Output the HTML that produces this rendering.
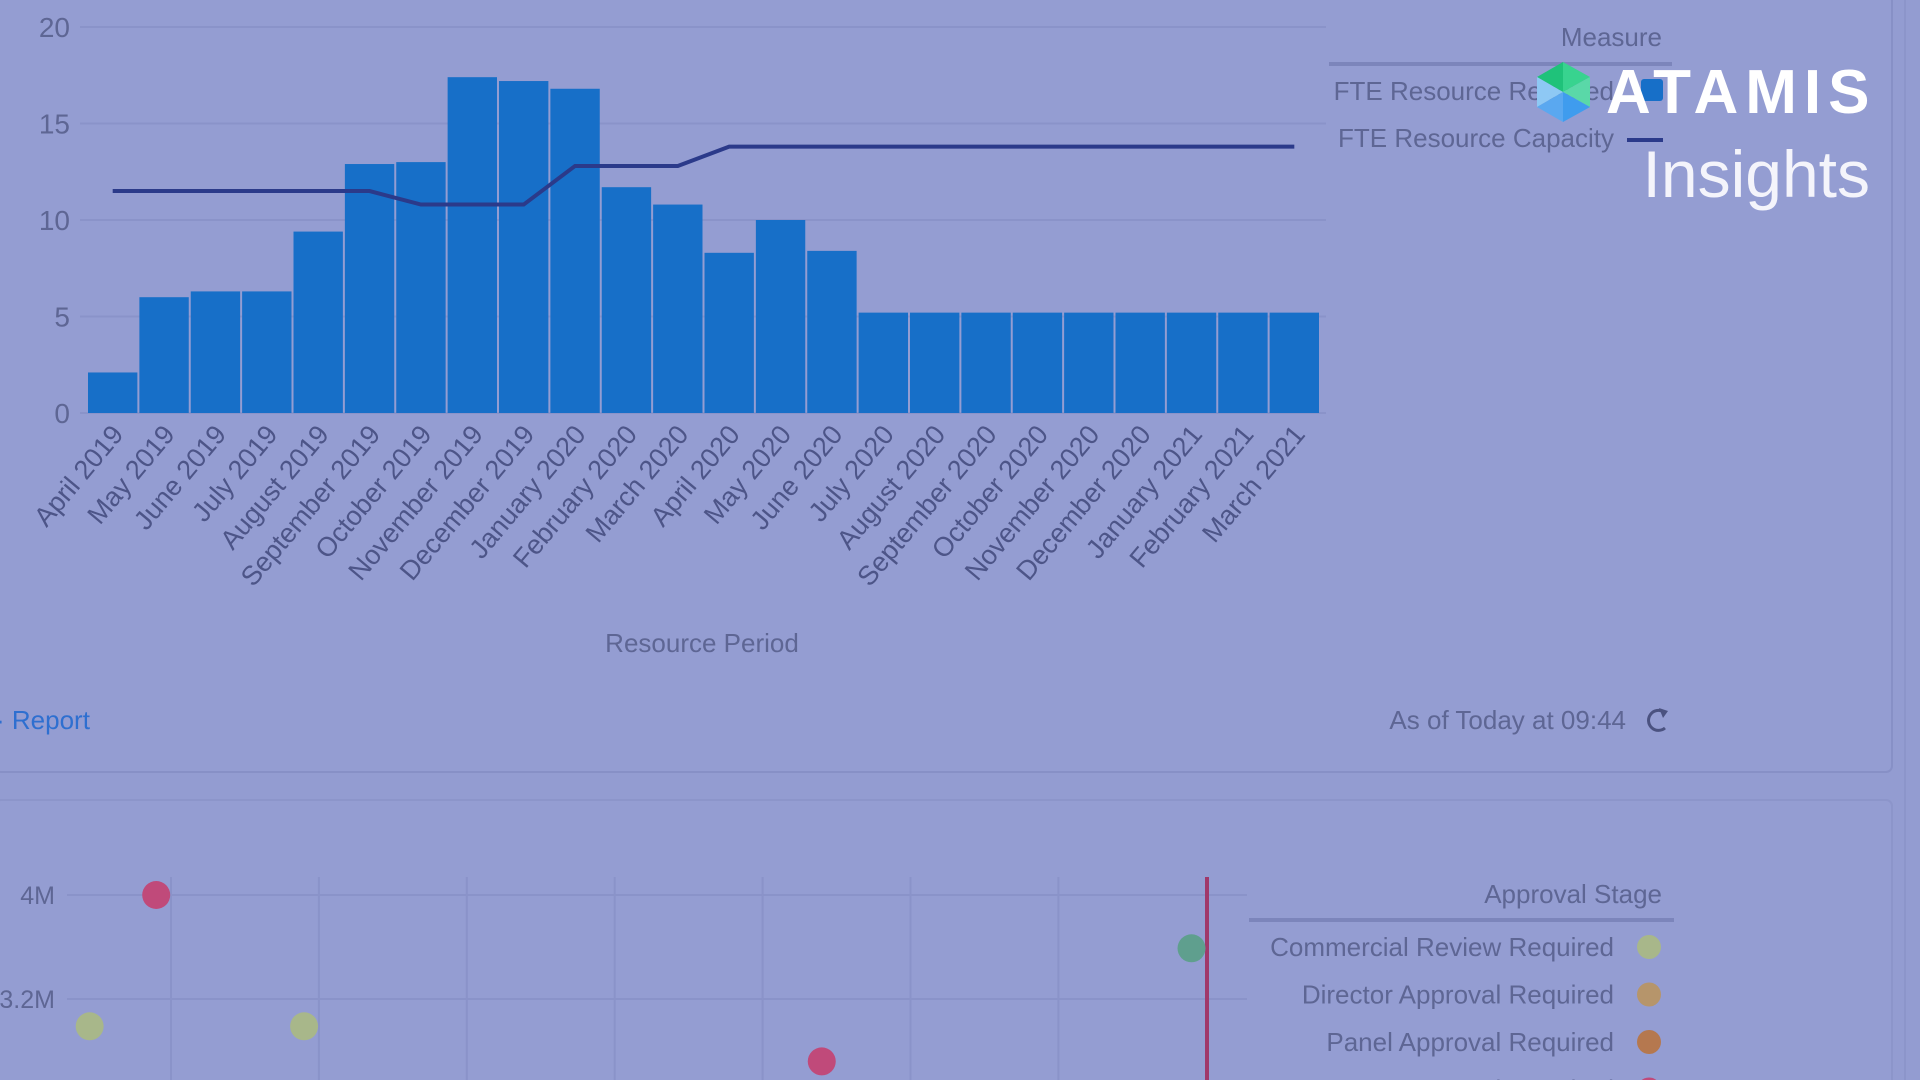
<!DOCTYPE html>
<html><head><meta charset="utf-8"><style>
html,body{margin:0;padding:0;width:1920px;height:1080px;overflow:hidden;background:#939cd1;font-family:"Liberation Sans",sans-serif}
svg{position:absolute;left:0;top:0}
</style></head><body>
<svg id="s" width="1920" height="1080" viewBox="0 0 1920 1080">
  <rect x="0" y="0" width="1920" height="1080" fill="#939cd1"/>
  <rect x="-5" y="-5" width="1897" height="777" rx="6" fill="#949dd2" stroke="#8790c6" stroke-width="2"/>
  <rect x="-5" y="800" width="1897" height="300" rx="6" fill="#949dd2" stroke="#8c95ca" stroke-width="2"/>
  <line x1="1905" y1="0" x2="1905" y2="1080" stroke="#8c95ca" stroke-width="2"/>
  <g id="bar-chart"></g>
  <g id="scatter-chart"></g>
  <text x="702" y="652" text-anchor="middle" font-size="26" fill="#5e6694">Resource Period</text>
  <text x="-4" y="729" font-size="26" fill="#2e6fd0">· Report</text>
  <text x="1626" y="729" text-anchor="end" font-size="26" fill="#5e6694">As of Today at 09:44</text>
  <g><path d="M1664 712 A10 10 0 1 0 1665 728" fill="none" stroke="#4b5280" stroke-width="3"/><path d="M1659 708 L1668 711 L1663 718 Z" fill="#4b5280"/></g>
  <text x="1662" y="46" text-anchor="end" font-size="26" fill="#5e6694">Measure</text>
  <line x1="1329" y1="64" x2="1672" y2="64" stroke="#7c85bb" stroke-width="4"/>
  <text x="1614" y="100" text-anchor="end" font-size="26" fill="#5e6694">FTE Resource Required</text>
  <rect x="1641" y="79" width="22" height="22" rx="3" fill="#176fc8"/>
  <text x="1614" y="147" text-anchor="end" font-size="26" fill="#5e6694">FTE Resource Capacity</text>
  <line x1="1627" y1="140" x2="1663" y2="140" stroke="#2b3a8a" stroke-width="4"/>
  <text x="1662" y="903" text-anchor="end" font-size="26" fill="#5e6694">Approval Stage</text>
  <line x1="1249" y1="920" x2="1674" y2="920" stroke="#7c85bb" stroke-width="4"/>
  <g id="slegend"></g>
  <g>
    <polygon points="1563,62 1590,77 1563,92" fill="#38d38f"/>
    <polygon points="1563,62 1537,77 1563,92" fill="#1fc27a"/>
    <polygon points="1590,77 1590,107 1563,92" fill="#5ad8a8"/>
    <polygon points="1537,77 1537,107 1563,92" fill="#8ec8f4"/>
    <polygon points="1537,107 1563,122 1563,92" fill="#5aa8f0"/>
    <polygon points="1590,107 1563,122 1563,92" fill="#3f9cee"/>
    <text x="1606" y="113" font-size="62" font-weight="bold" fill="#ffffff" letter-spacing="7">ATAMIS</text>
    <text x="1870" y="197" text-anchor="end" font-size="66" fill="#f4f4fb">Insights</text>
  </g>
</svg>
<script>
const months=["April 2019","May 2019","June 2019","July 2019","August 2019","September 2019","October 2019","November 2019","December 2019","January 2020","February 2020","March 2020","April 2020","May 2020","June 2020","July 2020","August 2020","September 2020","October 2020","November 2020","December 2020","January 2021","February 2021","March 2021"];
const required=[2.1,6.0,6.3,6.3,9.4,12.9,13.0,17.4,17.2,16.8,11.7,10.8,8.3,10.0,8.4,5.2,5.2,5.2,5.2,5.2,5.2,5.2,5.2,5.2];
const capacity=[11.5,11.5,11.5,11.5,11.5,11.5,10.8,10.8,10.8,12.8,12.8,12.8,13.8,13.8,13.8,13.8,13.8,13.8,13.8,13.8,13.8,13.8,13.8,13.8];
const yTicks=[0,5,10,15,20];
const stages=["Commercial Review Required","Director Approval Required","Panel Approval Required","RFP Approval Required"];
const stageColors=["#a8b78a","#b6956b","#b5784f","#c04a7a"];
const ptX=[-0.55,-0.1,0.9,4.4,6.9];
const ptY=[2.99,4.0,2.99,2.72,3.59];
const ptStage=[0,3,0,3,4];
const sTicks=[3.2,4];
const NS="http://www.w3.org/2000/svg";
function mk(t,a,p){const e=document.createElementNS(NS,t);for(const k in a)e.setAttribute(k,a[k]);p.appendChild(e);return e;}
const X0=87,X1=1320,bw=(X1-X0)/months.length;
const yS=v=>413-v*19.3;
const xC=i=>X0+bw*(i+0.5);
const g=document.getElementById('bar-chart');
yTicks.forEach(t=>{
  const l=mk('line',{x1:80,x2:1326,y1:yS(t),y2:yS(t),stroke:'#8a93c9','stroke-width':2},g);
  
  
  const tx=mk('text',{x:70,y:yS(t)+10,'text-anchor':'end','font-size':28,fill:'#5e6694'},g);
  tx.textContent=t;
  
  
});
required.forEach((v,i)=>{
  const r=mk('rect',{x:X0+bw*i+1,y:yS(v),width:bw-2,height:yS(0)-yS(v),fill:'#176fc8'},g);
  
  
  const t=mk('text',{transform:`translate(${xC(i)+12},${yS(0)+22}) rotate(-50)`,'text-anchor':'end','font-size':27,fill:'#4d5588'},g);
  t.textContent=months[i];
  
  
});
let d='';capacity.forEach((v,i)=>{d+=(i?'L':'M')+xC(i)+' '+yS(v)+' ';});
const pl=mk('path',{d:d,fill:'none',stroke:'#2b3a8a','stroke-width':4},g);


const sg=document.getElementById('scatter-chart');
const sx=v=>171+147.9*v;
const sy=v=>895+(4-v)*130;
sTicks.forEach(t=>{
  const l=mk('line',{x1:67,x2:1247,y1:sy(t),y2:sy(t),stroke:'#8a93c9','stroke-width':2},sg);
  
  
  const tx=mk('text',{x:55,y:sy(t)+9,'text-anchor':'end','font-size':25,fill:'#5e6694'},sg);
  tx.textContent=(t+'M');
  
  
});
for(let i=0;i<7;i++){
  const l=mk('line',{x1:sx(i),x2:sx(i),y1:877,y2:1080,stroke:'#8a93c9','stroke-width':2},sg);
  
  
}
const rl=mk('line',{x1:1207,x2:1207,y1:877,y2:1080,stroke:'#a0386a','stroke-width':4},sg);


ptX.forEach((v,i)=>{
  const col=ptStage[i]<4?stageColors[ptStage[i]]:"#5f9f8e";
  const c=mk('circle',{cx:sx(v),cy:sy(ptY[i]),r:14,fill:col},sg);
  
  
});
const lg=document.getElementById('slegend');
stages.forEach((s,i)=>{
  const y=947+i*47.5;
  const t=mk('text',{x:1614,y:y+9,'text-anchor':'end','font-size':26,fill:'#5e6694'},lg);
  t.textContent=s;
  
  
  mk('circle',{cx:1649,cy:y,r:12,fill:stageColors[i]},lg);
});
</script>
</body></html>
